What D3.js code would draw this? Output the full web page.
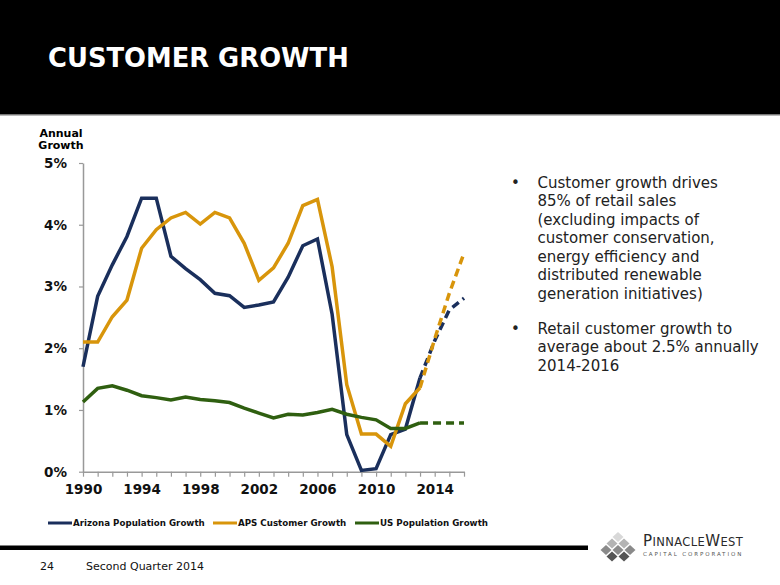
<!DOCTYPE html>
<head>
  <meta charset="utf-8">
  <script src="https://unpkg.com/d3@7/dist/d3.min.js"></script>
  <style>
    body { margin:0; background:#fff; }
    text { font-family: "DejaVu Sans", Verdana, sans-serif; }
  </style>
</head>
<body>
  <svg width="780" height="585"></svg>
  <script>
    var years = d3.range(1990, 2017);
    var arizona = [1.70, 2.84, 3.35, 3.81, 4.43, 4.43, 3.49, 3.29, 3.11, 2.89, 2.85, 2.66, 2.70, 2.75, 3.15, 3.66, 3.77, 2.55, 0.60, 0.02, 0.05, 0.60, 0.69, 1.52, 2.12, 2.62, 2.81];
    var aps     = [2.10, 2.10, 2.51, 2.78, 3.62, 3.92, 4.11, 4.20, 4.01, 4.20, 4.11, 3.70, 3.10, 3.30, 3.70, 4.31, 4.41, 3.32, 1.41, 0.61, 0.61, 0.41, 1.10, 1.36, 2.15, 2.89, 3.54];
    var usPop   = [1.13, 1.35, 1.39, 1.32, 1.23, 1.20, 1.16, 1.21, 1.17, 1.15, 1.12, 1.03, 0.95, 0.87, 0.93, 0.92, 0.96, 1.01, 0.93, 0.88, 0.84, 0.70, 0.70, 0.79, 0.79, 0.79, 0.79];
    var lastActual = 2013;
    var yTicks = [0, 1, 2, 3, 4, 5];
    var seriesNames = ["Arizona Population Growth", "APS Customer Growth", "US Population Growth"];
    var colors = ["#1a2f5c", "#d8950b", "#2f5f10"];
    var bullets = [
      ["Customer growth drives", "85% of retail sales", "(excluding impacts of", "customer conservation,", "energy efficiency and", "distributed renewable", "generation initiatives)"],
      ["Retail customer growth to", "average about 2.5% annually", "2014-2016"]
    ];

    var svg = d3.select("svg");

    // header band
    svg.append("rect").attr("width", 780).attr("height", 114).attr("fill", "#000");
    svg.append("rect").attr("y", 114).attr("width", 780).attr("height", 1.5).attr("fill", "#777");
    svg.append("text").attr("x", 48).attr("y", 67)
      .attr("fill", "#fff").attr("font-size", 25.8).attr("font-weight", "bold")
      .text("CUSTOMER GROWTH");

    var x = d3.scaleLinear().domain([1990, 2016]).range([83, 464]);
    var y = d3.scaleLinear().domain([0, 5]).range([471.7, 163]);

    var gy = svg.append("g").attr("transform", "translate(83,0)")
      .call(d3.axisLeft(y).tickValues(yTicks).tickSize(4).tickSizeOuter(0).tickPadding(12)
        .tickFormat(function (d) { return d + "%"; }));
    var gx = svg.append("g").attr("transform", "translate(0,471.7)")
      .call(d3.axisBottom(x).tickValues(years).tickSize(5).tickSizeOuter(0).tickPadding(8)
        .tickFormat(function (d) { return (d - 1990) % 4 === 0 ? d : ""; }));
    [gx, gy].forEach(function (g) {
      g.select(".domain").attr("stroke", "#999").attr("stroke-width", 1.5);
      g.selectAll(".tick line").attr("stroke", "#999").attr("stroke-width", 1.2);
      g.selectAll(".tick text").attr("fill", "#111").attr("font-size", 13.5)
        .attr("font-weight", "bold").attr("font-family", "DejaVu Sans, Verdana, sans-serif");
    });

    svg.append("text").attr("x", 61).attr("y", 137).attr("text-anchor", "middle")
      .attr("font-size", 11).attr("font-weight", "bold").text("Annual");
    svg.append("text").attr("x", 61).attr("y", 149).attr("text-anchor", "middle")
      .attr("font-size", 11).attr("font-weight", "bold").text("Growth");

    var line = d3.line()
      .x(function (d) { return x(d[0]); })
      .y(function (d) { return y(d[1]); });

    [arizona, aps, usPop].forEach(function (vals, i) {
      var pts = years.map(function (yr, j) { return [yr, vals[j]]; });
      svg.append("path").datum(pts.filter(function (p) { return p[0] <= lastActual; }))
        .attr("d", line).attr("fill", "none").attr("stroke", colors[i])
        .attr("stroke-width", 3.5).attr("stroke-linejoin", "miter");
      svg.append("path").datum(pts.filter(function (p) { return p[0] >= lastActual; }))
        .attr("d", line).attr("fill", "none").attr("stroke", colors[i])
        .attr("stroke-width", 3.5).attr("stroke-dasharray", "8,5");
    });

    // legend
    var legX = [48, 213, 355];
    seriesNames.forEach(function (name, i) {
      svg.append("line").attr("x1", legX[i]).attr("x2", legX[i] + 24)
        .attr("y1", 523).attr("y2", 523).attr("stroke", colors[i]).attr("stroke-width", 3);
      svg.append("text").attr("x", legX[i] + 25).attr("y", 526)
        .attr("font-size", 8.7).attr("font-weight", "bold").attr("fill", "#111").text(name);
    });

    // bullets
    var by = 187.5;
    bullets.forEach(function (b) {
      svg.append("text").attr("x", 511).attr("y", by).attr("font-size", 15).attr("fill", "#222").text("•");
      b.forEach(function (t) {
        svg.append("text").attr("x", 537.5).attr("y", by).attr("font-size", 15).attr("fill", "#222").text(t);
        by += 18.5;
      });
      by += 16.5;
    });

    // footer
    svg.append("rect").attr("x", 0).attr("y", 545.5).attr("width", 588).attr("height", 4.5).attr("fill", "#000");
    svg.append("text").attr("x", 40).attr("y", 570).attr("font-size", 11).attr("fill", "#111").text("24");
    svg.append("text").attr("x", 86).attr("y", 570).attr("font-size", 11).attr("fill", "#111").text("Second Quarter 2014");

    // logo
    var logo = svg.append("g");
    var rows = [[618], [612, 624], [606, 618, 630], [612, 624]];
    var shades = ["#d8d8d8", "#b4b4b4", "#8a8a8a", "#555"];
    rows.forEach(function (r, ri) {
      r.forEach(function (cx) {
        var cy = 537 + ri * 6.5;
        logo.append("path")
          .attr("d", "M" + cx + "," + (cy - 5) + "L" + (cx + 5.5) + "," + cy + "L" + cx + "," + (cy + 5) + "L" + (cx - 5.5) + "," + cy + "Z")
          .attr("fill", shades[ri]);
      });
    });
    var lt = logo.append("text").attr("x", 643).attr("y", 546).attr("font-family", "Liberation Serif, serif")
      .attr("fill", "#2a2a2a").attr("letter-spacing", 0.4);
    lt.append("tspan").attr("font-size", 15).text("P");
    lt.append("tspan").attr("font-size", 11.5).text("INNACLE");
    lt.append("tspan").attr("font-size", 15).text("W");
    lt.append("tspan").attr("font-size", 11.5).text("EST");
    logo.append("text").attr("x", 643).attr("y", 556).attr("font-size", 5.5).attr("fill", "#555")
      .attr("letter-spacing", 1.9).text("CAPITAL CORPORATION");
  </script>
</body>
